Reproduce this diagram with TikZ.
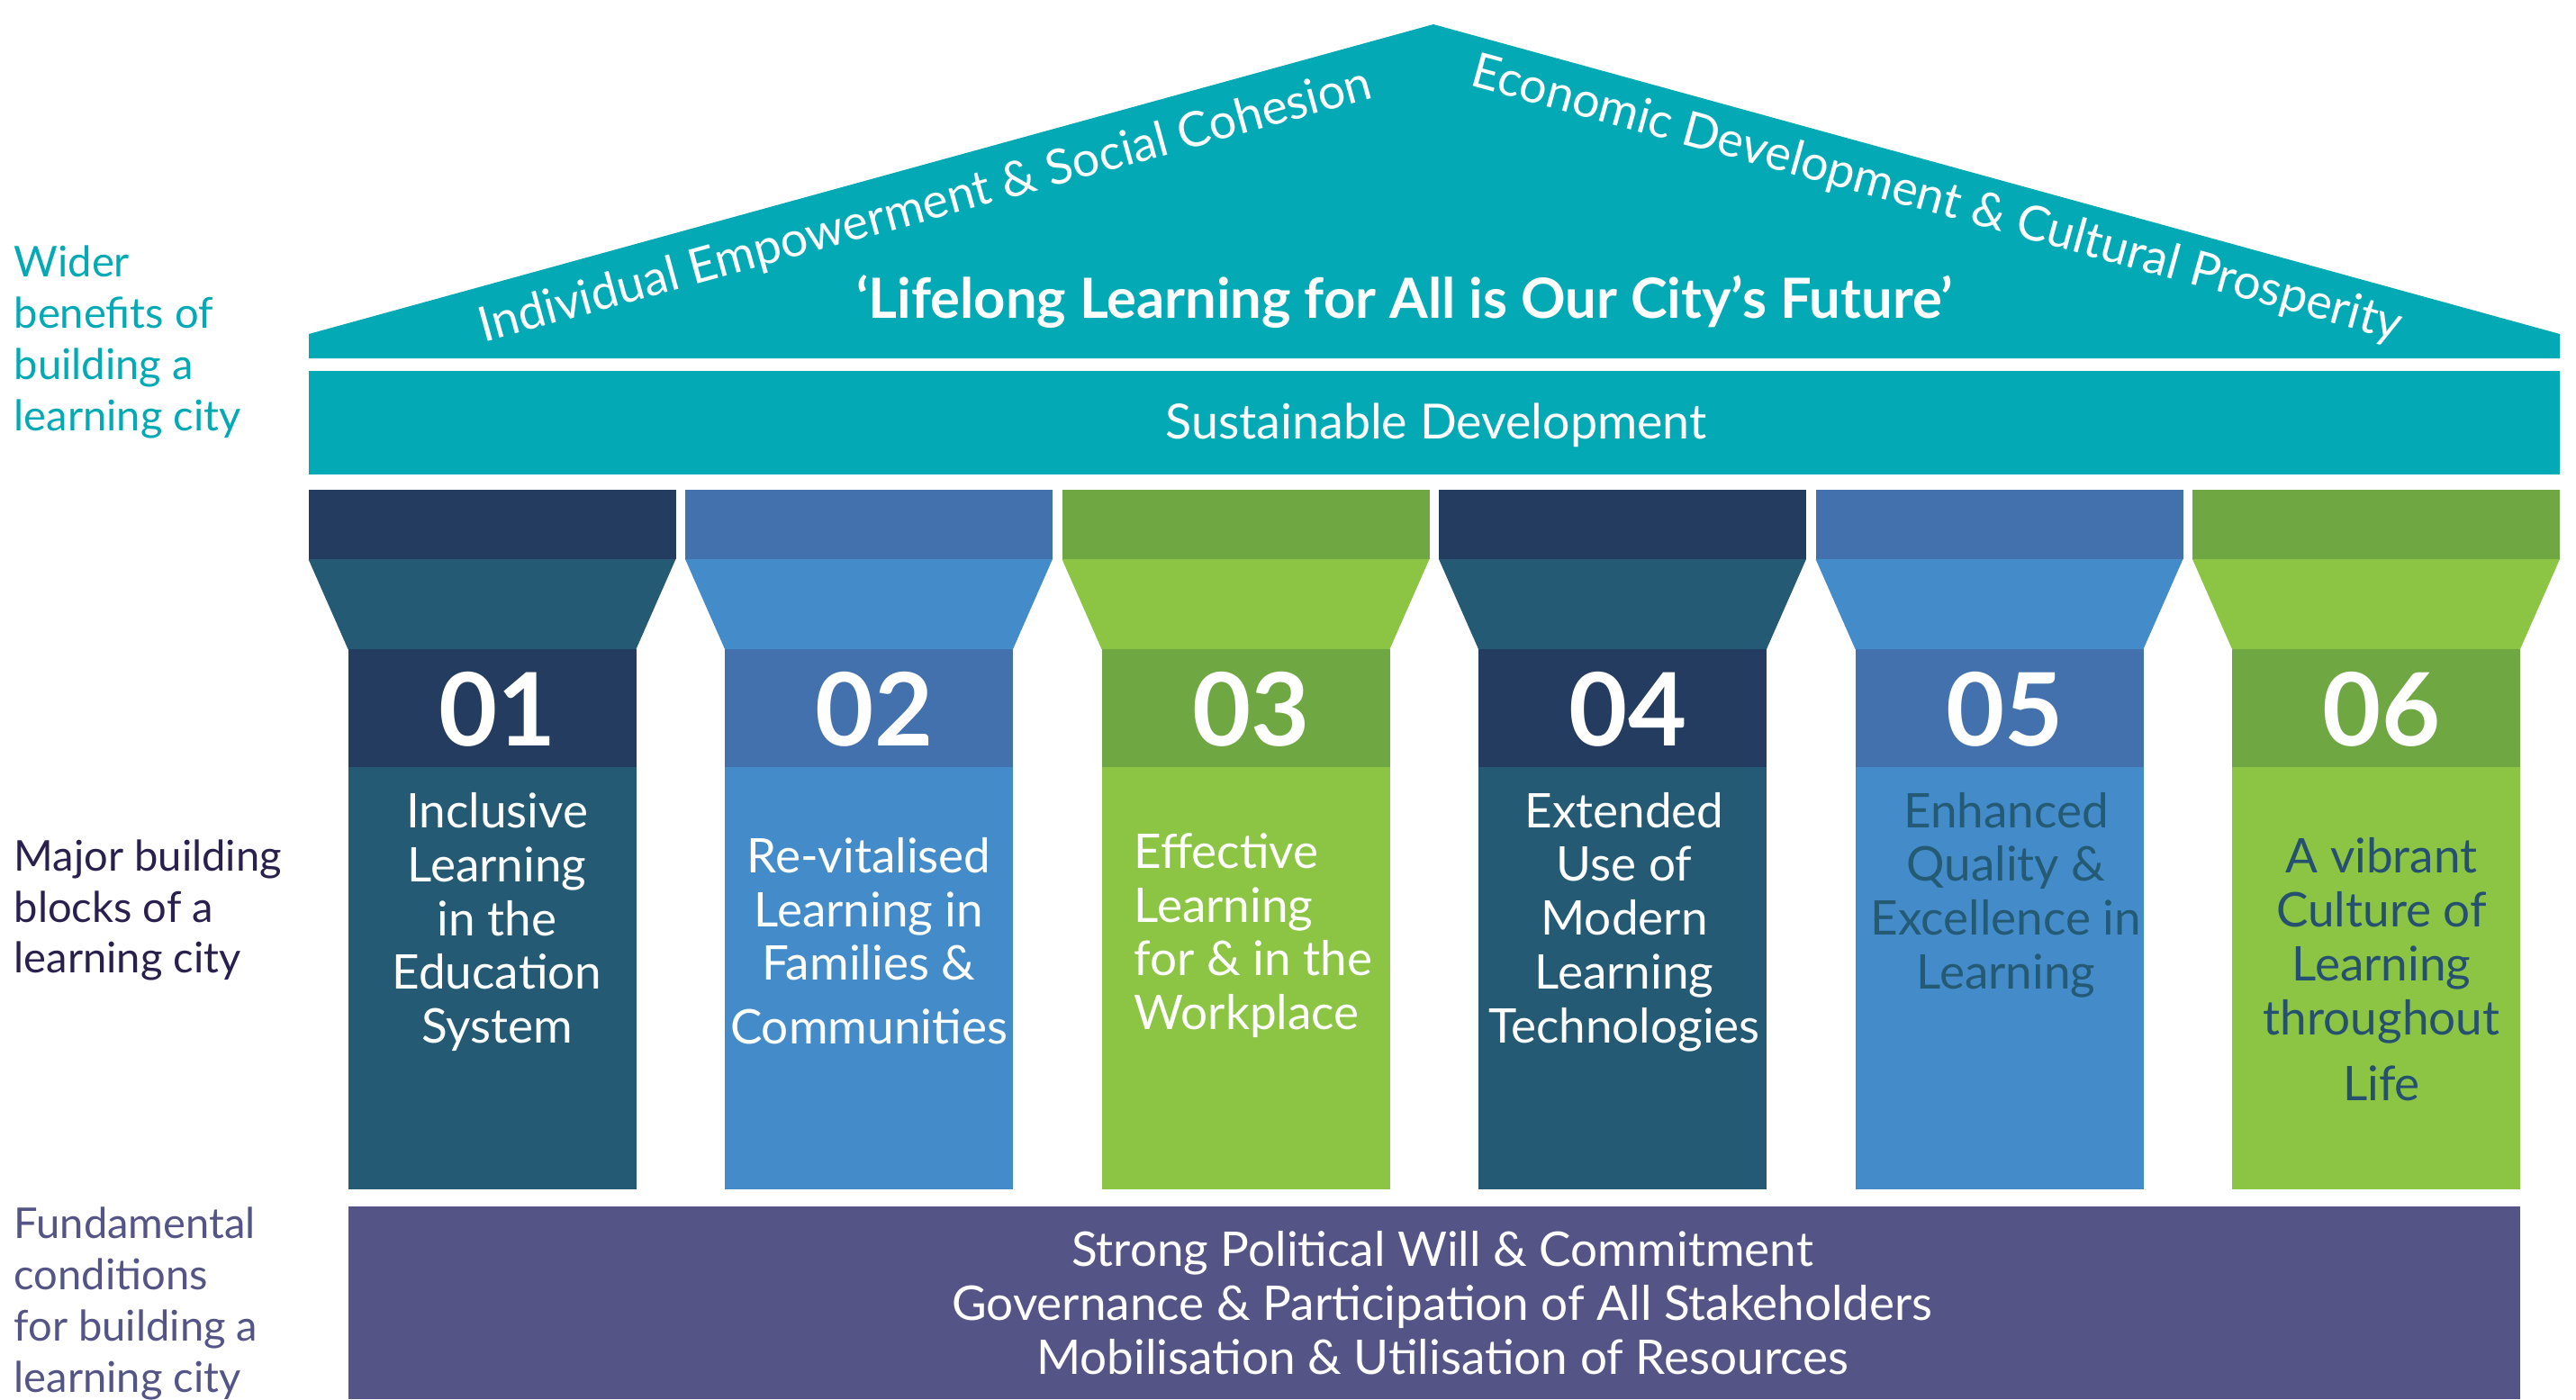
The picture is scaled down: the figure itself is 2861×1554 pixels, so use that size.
\documentclass[tikz,border=0pt]{standalone}
\usepackage{fontspec}
\setmainfont{Lato}
\usepackage{tikz}
\definecolor{roofteal}{RGB}{3,170,181}
\definecolor{navycap}{RGB}{35,60,95}
\definecolor{navyshaft}{RGB}{36,90,116}
\definecolor{bluecap}{RGB}{67,113,173}
\definecolor{blueshaft}{RGB}{68,140,201}
\definecolor{greencap}{RGB}{111,168,67}
\definecolor{greenshaft}{RGB}{140,196,67}
\definecolor{basepurple}{RGB}{84,85,134}
\definecolor{labeldark}{RGB}{42,32,78}
\definecolor{pillartext}{RGB}{38,80,112}

\begin{document}
\begin{tikzpicture}[x=0.1mm,y=-0.1mm,
  coltext/.style={text=white,align=center,inner sep=0pt,font=\fontsize{15.1}{17}\selectfont},
  rooftext/.style={coltext,font=\fontsize{15.3}{17}\selectfont},
  sidelabel/.style={anchor=west,align=left,inner sep=0pt,font=\fontsize{13.4}{16.2}\selectfont},
  numtext/.style={text=white,inner sep=0pt,font=\fontsize{32}{32}\selectfont\bfseries}]
  \useasboundingbox (0,0) rectangle (2861,1554);
  \fill[roofteal] (343,398) -- (343,371) -- (1592,27) -- (2843,371) -- (2843,398) -- cycle;
  \fill[roofteal] (343,412) rectangle (2843,527);
  \node[rooftext,rotate=15.4] (social) at (1028,230) {Individual Empowerment \& Social Cohesion};
  \node[rooftext,rotate=-15.4] (economic) at (2151,222) {Economic Development \& Cultural Prosperity};
  \node[coltext,font=\fontsize{17.5}{17}\selectfont\bfseries] (motto) at (1560,335) {‘Lifelong Learning for All is Our City’s Future’};
  \node[rooftext] (sustain) at (1595,472) {Sustainable Development};
  \foreach \i/\capc/\shaftc/\n in {0/navycap/navyshaft/01,1/bluecap/blueshaft/02,2/greencap/greenshaft/03,
      3/navycap/navyshaft/04,4/bluecap/blueshaft/05,5/greencap/greenshaft/06}{
    \pgfmathsetmacro{\cx}{546.5+418.5*\i}
    \fill[\capc] (\cx-204,544) rectangle (\cx+204,621);
    \fill[\shaftc] (\cx-204,621) -- (\cx+204,621) -- (\cx+160,721) -- (\cx-160,721) -- cycle;
    \fill[\capc] (\cx-160,721) rectangle (\cx+160,852);
    \fill[\shaftc] (\cx-160,852) rectangle (\cx+160,1321);
    \node[numtext] (num\n) at (\cx+6,788) {\n};
  }
  \node[coltext] (block1) at (552,1024) {Inclusive\\Learning\\in the\\Education\\System};
  \node[coltext] (block2) at (965,1045) {Re-vitalised\\Learning in\\Families \&\\[3pt]Communities};
  \node[coltext,align=left,anchor=west] (block3) at (1259,1039) {Effective\\Learning\\for \& in the\\Workplace};
  \node[coltext] (block4) at (1804,1024) {Extended\\Use of\\Modern\\Learning\\Technologies};
  \node[coltext,text=navyshaft] (block5) at (2228,994) {Enhanced\\Quality \&\\Excellence in\\Learning};
  \node[coltext,text=pillartext] (block6) at (2645,1077) {A vibrant\\Culture of\\Learning\\throughout\\[4pt]Life};
  \fill[basepurple] (387,1340) rectangle (2799,1554);
  \node[coltext] (found) at (1602,1447) {Strong Political Will \& Commitment\\Governance \& Participation of All Stakeholders\\Mobilisation \& Utilisation of Resources};
  \node[sidelabel,text=roofteal] (wider) at (15,380) {Wider\\benefits of\\building a\\learning city};
  \node[sidelabel,text=labeldark] (major) at (15,1011) {Major building\\blocks of a\\learning city};
  \node[sidelabel,text=basepurple] (fundamental) at (15,1448) {Fundamental\\conditions\\for building a\\learning city};
\end{tikzpicture}
\end{document}
